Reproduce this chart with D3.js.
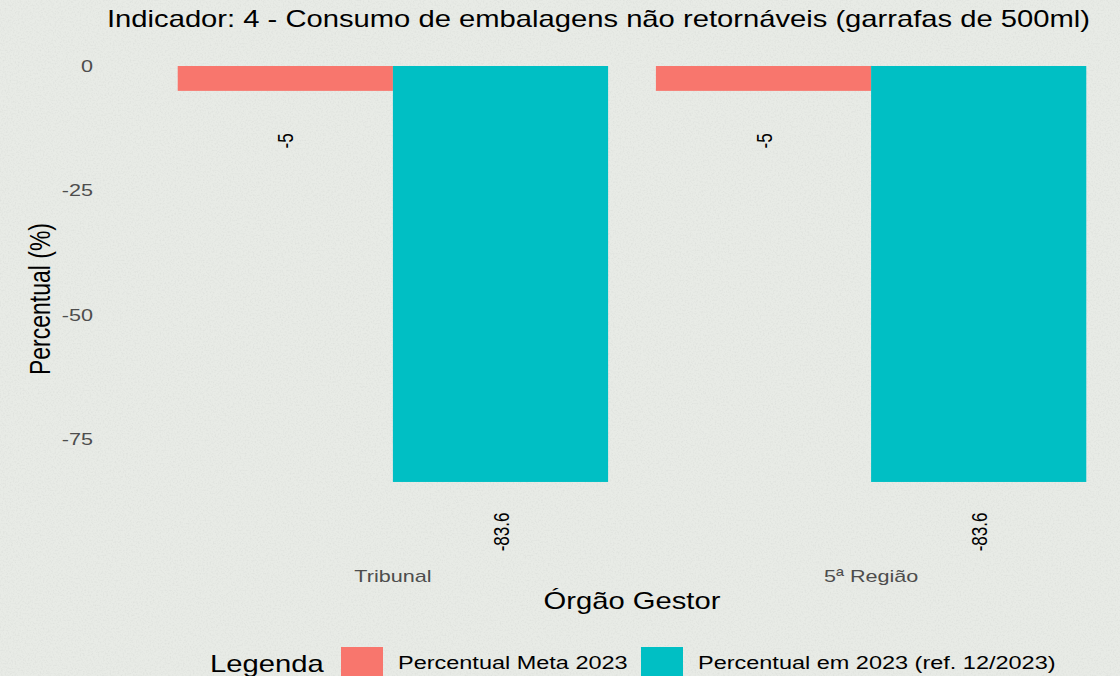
<!DOCTYPE html>
<html>
<head>
    <script src="https://cdnjs.cloudflare.com/ajax/libs/d3/7.8.5/d3.min.js"></script>
    <style>
        body { margin: 0; background: #e7eae5; }
        svg { display: block; font-family: "Liberation Sans", Arial, sans-serif; }
        .tick-label { fill: #4d4d4d; font-size: 17px; }
        .axis-title { fill: #000; font-size: 23px; }
    </style>
</head>
<body>
    <div id="chart"></div>
    <script>
        const width = 1120;
        const height = 676;
        // the source picture is stretched sideways, so the text is too
        const sx = 1.27;

        // data
        const categories = ["Tribunal", "5ª Região"];
        const series = ["Percentual Meta 2023", "Percentual em 2023 (ref. 12/2023)"];
        const metaValues = [-5, -5];
        const realValues = [-83.6, -83.6];
        const yTicks = [0, -25, -50, -75];
        const colors = ["#F8766D", "#00BFC4"];

        const rows = categories.map((c, i) => ({
            cat: c,
            values: [
                {key: series[0], value: metaValues[i]},
                {key: series[1], value: realValues[i]}
            ]
        }));

        const svg = d3.select("#chart")
            .append("svg")
            .attr("width", width)
            .attr("height", height);

        // paper-ish texture
        const defs = svg.append("defs");
        const f = defs.append("filter").attr("id", "paper")
            .attr("x", 0).attr("y", 0).attr("width", "100%").attr("height", "100%");
        f.append("feTurbulence").attr("type", "fractalNoise")
            .attr("baseFrequency", 0.6).attr("numOctaves", 2).attr("seed", 3);
        f.append("feColorMatrix").attr("type", "matrix")
            .attr("values", "0 0 0 0 0.55  0 0 0 0 0.57  0 0 0 0 0.55  0 0 0 -1.6 0.9");
        f.append("feComposite").attr("operator", "in").attr("in2", "SourceGraphic");

        svg.append("rect").attr("width", width).attr("height", height).attr("fill", "#e8ebe6");
        svg.append("rect").attr("width", width).attr("height", height)
            .attr("fill", "#fff").attr("filter", "url(#paper)").attr("opacity", 0.35);

        // scales
        const x = d3.scaleBand()
            .domain(categories)
            .range([106, 1158])
            .paddingInner(0.1)
            .paddingOuter(0.15);

        const xSub = d3.scaleBand()
            .domain(series)
            .range([0, x.bandwidth()]);

        const y = d3.scaleLinear()
            .domain([-90, 0])
            .range([513.8, 66]);

        const color = d3.scaleOrdinal().domain(series).range(colors);

        function label(g, px, py, txt, size, anchor) {
            return g.append("text")
                .attr("transform", `translate(${px},${py}) scale(${sx},1)`)
                .attr("text-anchor", anchor || "start")
                .attr("font-size", size)
                .attr("fill", "#000")
                .text(txt);
        }

        // title
        label(svg, 107, 27, "Indicador: 4 - Consumo de embalagens não retornáveis (garrafas de 500ml)", 23);

        // y axis labels
        const yAxis = svg.append("g")
            .attr("transform", "translate(93,0)")
            .call(d3.axisLeft(y).tickValues(yTicks).tickSize(0).tickPadding(0).tickFormat(d => String(d)));
        yAxis.select(".domain").remove();
        yAxis.selectAll("text")
            .attr("class", "tick-label")
            .attr("font-family", null)
            .attr("font-size", null)
            .attr("fill", null)
            .attr("transform", `scale(${sx},1)`);

        svg.append("text")
            .attr("class", "axis-title")
            .attr("transform", `translate(50,299) scale(${sx},1) rotate(-90)`)
            .attr("text-anchor", "middle")
            .text("Percentual (%)");

        // bars
        const groups = svg.selectAll(".grp")
            .data(rows)
            .enter()
            .append("g")
            .attr("class", "grp")
            .attr("transform", d => `translate(${x(d.cat)},0)`);

        groups.selectAll("rect")
            .data(d => d.values)
            .enter()
            .append("rect")
            .attr("x", d => xSub(d.key))
            .attr("width", xSub.bandwidth())
            .attr("y", y(0))
            .attr("height", d => y(d.value) - y(0))
            .attr("fill", d => color(d.key));

        groups.selectAll(".val")
            .data(d => d.values)
            .enter()
            .append("text")
            .attr("class", "val")
            .attr("transform", d => `translate(${xSub(d.key) + xSub.bandwidth() / 2 + 8},${y(d.value) + 50}) scale(${sx},1) rotate(-90)`)
            .attr("text-anchor", "middle")
            .attr("font-size", 17)
            .attr("fill", "#000")
            .text(d => String(d.value));

        // x axis labels
        const xAxis = svg.append("g")
            .attr("transform", "translate(0,582)")
            .call(d3.axisBottom(x).tickSize(0).tickPadding(0));
        xAxis.select(".domain").remove();
        xAxis.selectAll("text")
            .attr("class", "tick-label")
            .attr("font-family", null)
            .attr("font-size", null)
            .attr("fill", null)
            .attr("dy", 0)
            .attr("transform", `scale(${sx},1)`);

        label(svg, 632, 609, "Órgão Gestor", 23, "middle");

        // legend
        const legend = svg.append("g").attr("transform", "translate(0,647)");
        label(legend, 210, 25, "Legenda", 23);

        const legX = [341, 641];
        series.forEach((s, i) => {
            legend.append("rect")
                .attr("x", legX[i])
                .attr("y", 0)
                .attr("width", 42)
                .attr("height", 42)
                .attr("fill", color(s));
            label(legend, legX[i] + 57, 22, s, 18.5);
        });
    </script>
</body>
</html>
